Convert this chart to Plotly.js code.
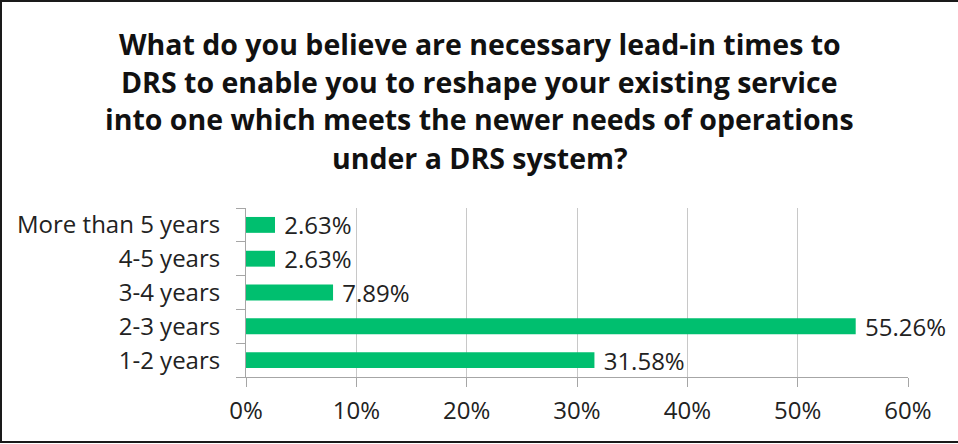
<!DOCTYPE html>
<html>
<head>
<meta charset="utf-8">
<script src="https://cdn.plot.ly/plotly-3.0.1.min.js"></script>
<style>
  html, body { margin: 0; padding: 0; background: #fff; }
  #wrap { position: relative; width: 958px; height: 444px; }
  #chart { width: 958px; height: 444px; }
  #frame { position: absolute; left: 0; top: 0; width: 956px; height: 439px;
           border-top: 2px solid #1a1a1a; border-left: 2px solid #1a1a1a; border-bottom: 2px solid #1a1a1a;
           pointer-events: none; }
</style>
</head>
<body>
<div id="wrap"><div id="chart"></div><div id="frame"></div></div>
<script>
const titleLines = [
  "What do you believe are necessary lead-in times to",
  "DRS to enable you to reshape your existing service",
  "into one which meets the newer needs of operations",
  "under a DRS system?"
];
const categories = ["1-2 years", "2-3 years", "3-4 years", "4-5 years", "More than 5 years"];
const values = [31.58, 55.26, 7.89, 2.63, 2.63];
const xTickValues = [0, 10, 20, 30, 40, 50, 60];
const xTickLabels = ["0%", "10%", "20%", "30%", "40%", "50%", "60%"];

const FONT = '"Open Sans", "Noto Sans", sans-serif';

const trace = {
  type: 'bar',
  orientation: 'h',
  y: categories,
  x: values,
  marker: { color: '#00bf6f' },
  text: values.map(v => '\u00a0' + v.toFixed(2) + '%'),
  texttemplate: '%{text}',
  textposition: 'outside',
  constraintext: 'none',
  cliponaxis: false,
  textfont: { family: FONT, size: 24, color: '#222' },
  hoverinfo: 'none'
};

const annotations = titleLines.map((t, i) => ({
  text: t,
  xref: 'paper', yref: 'paper',
  x: (479.5 - 246) / 662,
  y: 1 + (208 - (43.5 + 38 * i)) / 169,
  xanchor: 'center', yanchor: 'middle',
  showarrow: false,
  font: { family: FONT, size: 28.5, color: '#111', weight: 'bold' }
}));

const layout = {
  width: 958, height: 444,
  margin: { l: 246, r: 50, t: 208, b: 67, pad: 0 },
  paper_bgcolor: '#ffffff', plot_bgcolor: '#ffffff',
  showlegend: false,
  bargap: 0.53,
  annotations: annotations,
  xaxis: {
    range: [0, 60],
    tickmode: 'array',
    tickvals: xTickValues,
    ticktext: xTickLabels,
    showgrid: true, gridcolor: '#c8c8c8', gridwidth: 1,
    zeroline: false,
    showline: true, linecolor: '#a6a6a6', linewidth: 1,
    ticks: 'outside', ticklen: 9, tickcolor: '#a6a6a6',
    ticklabelstandoff: 3,
    tickfont: { family: FONT, size: 24, color: '#222' },
    fixedrange: true
  },
  yaxis: {
    type: 'category',
    categoryorder: 'array', categoryarray: categories,
    showline: true, linecolor: '#a6a6a6', linewidth: 1,
    ticks: 'outside', ticklen: 9, tickcolor: '#a6a6a6', tickson: 'boundaries',
    ticklabelstandoff: 20,
    showgrid: false, zeroline: false,
    tickfont: { family: FONT, size: 24, color: '#222' },
    fixedrange: true
  }
};

Plotly.newPlot('chart', [trace], layout, { displayModeBar: false, staticPlot: true });
</script>
</body>
</html>
